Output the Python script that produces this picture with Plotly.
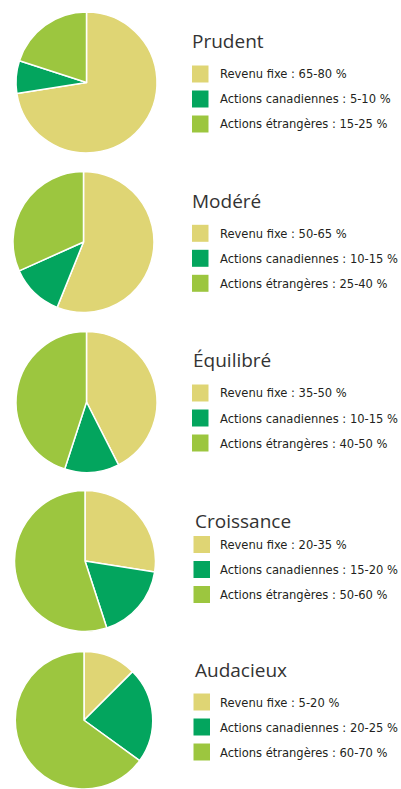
import plotly.graph_objects as go

# ---------------- data ----------------
profiles = ["Prudent", "Modéré", "Équilibré", "Croissance", "Audacieux"]
asset_classes = ["Revenu fixe", "Actions canadiennes", "Actions étrangères"]

revenu_fixe_range = ["65-80", "50-65", "35-50", "20-35", "5-20"]
actions_canadiennes_range = ["5-10", "10-15", "10-15", "15-20", "20-25"]
actions_etrangeres_range = ["15-25", "25-40", "40-50", "50-60", "60-70"]

revenu_fixe_share = [72.5, 57.5, 42.5, 27.5, 12.5]
actions_canadiennes_share = [7.5, 12.5, 12.5, 17.5, 22.5]
actions_etrangeres_share = [20, 32.5, 45, 55, 65]

# ---------------- style / layout ----------------
W, H = 401, 789
colors = ["#DFD574", "#03A55E", "#9CC63F"]
pie_centers = [(86.5, 82.5), (83.5, 242), (86.5, 402), (85, 561), (84, 722)]
radius = 70.5
title_x = [190, 190, 190.5, 193, 193]
title_y = [41, 200.5, 360, 520.5, 670]
square_x = [192, 192, 192, 193.5, 193.5]
row1_y = [74, 233.3, 393, 544.5, 702]
row_gap = 25
text_x = 218

title_font = dict(family="Open Sans, Noto Sans, sans-serif", size=19, color="#333333")
item_font = dict(family="DejaVu Sans Condensed, Liberation Sans Narrow, sans-serif",
                 size=12.8, color="#231F20")

fig = go.Figure()
shapes = []
annotations = []

for i, name in enumerate(profiles):
    cx, cy = pie_centers[i]
    x0 = max(0.0, (cx - radius) / W)
    x1 = min(1.0, (cx + radius) / W)
    y0 = max(0.0, 1 - (cy + radius) / H)
    y1 = min(1.0, 1 - (cy - radius) / H)
    vals = [revenu_fixe_share[i], actions_canadiennes_share[i], actions_etrangeres_share[i]]
    fig.add_trace(go.Pie(
        labels=asset_classes,
        values=vals,
        sort=False,
        direction="clockwise",
        rotation=0,
        textinfo="none",
        hovertemplate="%{label}<extra>" + name + "</extra>",
        marker=dict(colors=colors, line=dict(color="white", width=1.5)),
        domain=dict(x=[x0, x1], y=[y0, y1]),
        showlegend=False,
        name=name,
    ))

    annotations.append(dict(
        text=name, x=title_x[i] / W, y=1 - title_y[i] / H,
        xref="paper", yref="paper", xanchor="left", yanchor="middle",
        showarrow=False, font=title_font,
    ))
    ranges = [revenu_fixe_range[i], actions_canadiennes_range[i], actions_etrangeres_range[i]]
    for k, (cls, rng) in enumerate(zip(asset_classes, ranges)):
        ry = row1_y[i] + k * row_gap
        shapes.append(dict(
            type="rect", xref="paper", yref="paper",
            x0=square_x[i] / W, x1=(square_x[i] + 16.5) / W,
            y0=1 - (ry + 8.5) / H, y1=1 - (ry - 8.5) / H,
            fillcolor=colors[k], line=dict(width=0),
        ))
        annotations.append(dict(
            text=f"{cls} : {rng} %", x=text_x / W, y=1 - ry / H,
            xref="paper", yref="paper", xanchor="left", yanchor="middle",
            showarrow=False, font=item_font,
        ))

fig.update_layout(
    width=W, height=H,
    margin=dict(l=0, r=0, t=0, b=0),
    paper_bgcolor="white", plot_bgcolor="white",
    shapes=shapes, annotations=annotations,
    showlegend=False,
)

fig.write_html("out.html", config={"displayModeBar": False},
               post_script="document.body.style.margin='0';")
